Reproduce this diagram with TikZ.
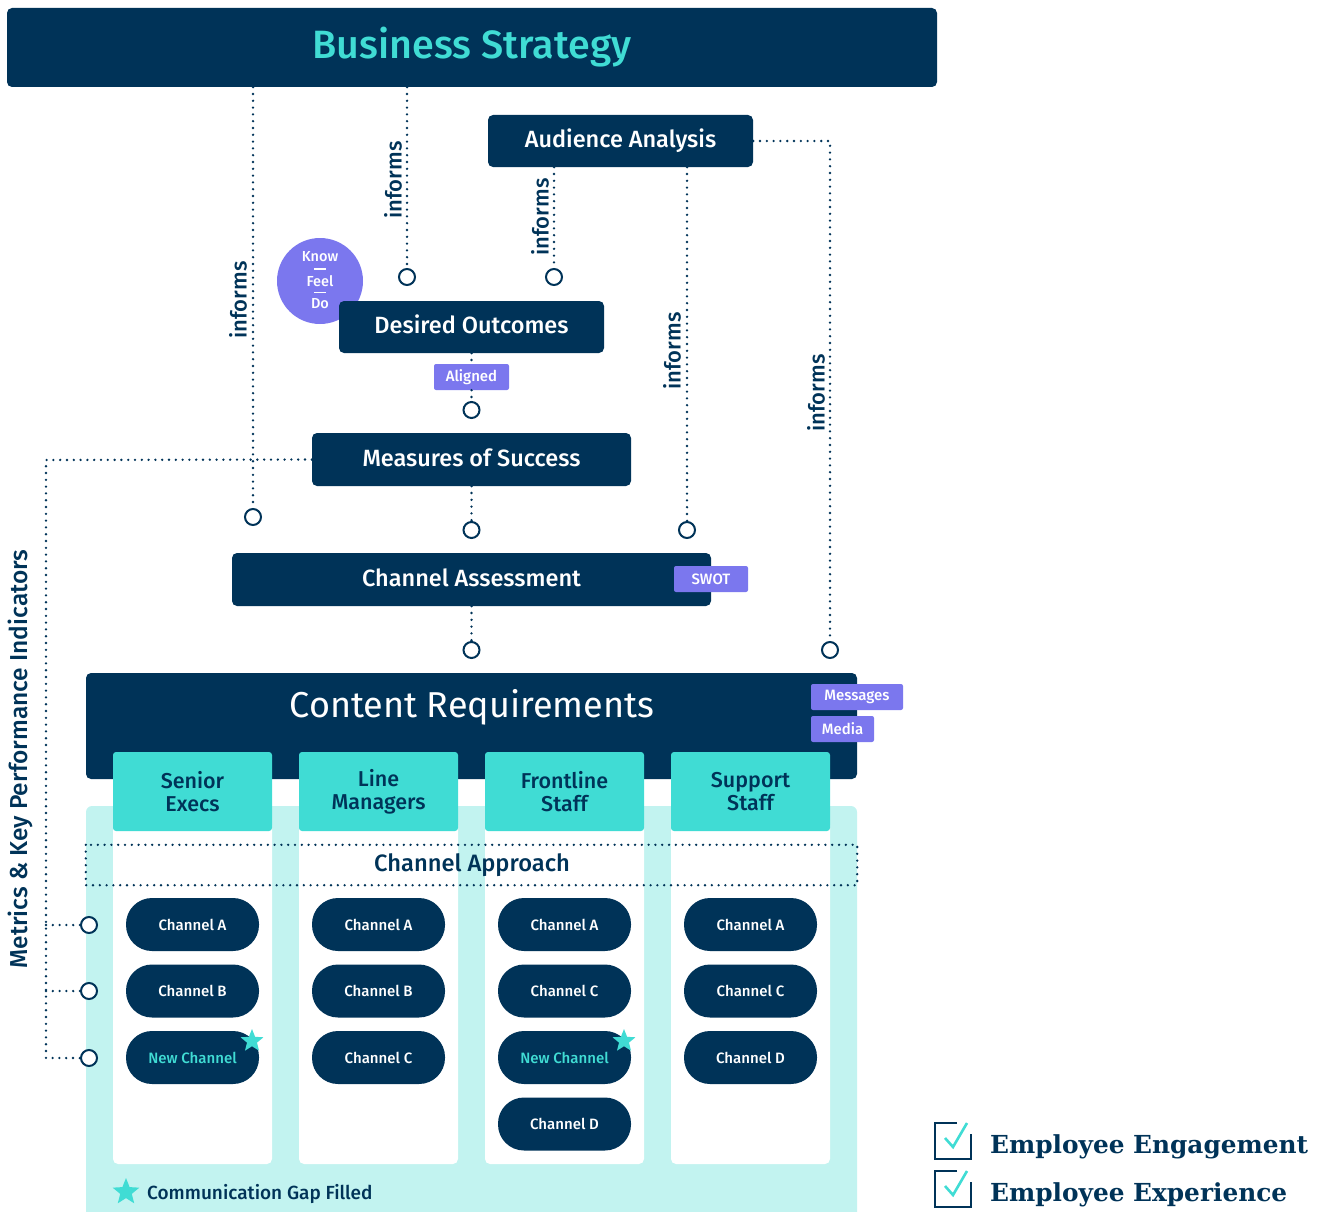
\documentclass[tikz,border=0pt]{standalone}
\usepackage{fontspec}
\setmainfont{Fira Sans}
\newfontfamily\semib{Fira Sans SemiBold}
\newfontfamily\medium{Fira Sans Medium}
\newfontfamily\slab{DejaVu Serif}
\usetikzlibrary{shapes.geometric}
\definecolor{navy}{HTML}{003358}
\definecolor{aqua}{HTML}{40DCD4}
\definecolor{paleaqua}{HTML}{C2F3F0}
\definecolor{violet}{HTML}{7B77EE}
\tikzset{
  box/.style={fill=navy, rounded corners=5pt, text=white, inner sep=0pt,
    text height=16.5pt, text depth=3pt, font=\fontsize{23.5}{28}\medium},
  tag/.style={fill=violet, text=white, rounded corners=2pt, inner sep=0pt,
    minimum height=26pt, font=\fontsize{15}{17}\medium},
  port/.style={circle, draw=navy, line width=2pt, fill=white, minimum size=16pt, inner sep=0pt},
  dots/.style={navy, line width=2.6pt, line cap=round, dash pattern=on 0pt off 6.8pt},
  inf/.style={rotate=90, text=navy, inner sep=0pt, font=\fontsize{22}{26}\medium},
  head/.style={fill=aqua, text=navy, inner sep=0pt, align=center,
    font=\fontsize{21.5}{23}\medium},
  panel/.style={fill=white, rounded corners=5pt},
  pill/.style={fill=navy, rounded corners=26pt, minimum width=133pt, minimum height=53pt,
    text=white, inner sep=0pt, font=\fontsize{15}{17}\medium},
  newpill/.style={pill, text=aqua},
  gapstar/.style={star, star points=5, star point ratio=2.3, fill=aqua, inner sep=0pt,
    minimum size=24pt},
  kfd/.style={text=white, inner sep=0pt, font=\fontsize{14.5}{16}\medium},
  goal/.style={text=navy, anchor=base west, inner sep=0pt, font=\fontsize{24.8}{28}\slab\bfseries},
  tick/.style={line width=2.6pt},
}
\begin{document}
\begin{tikzpicture}[x=1pt, y=-1pt]
\useasboundingbox (0,0) rectangle (1322,1212);

% --- top of the chain -------------------------------------------------
\node[box, minimum width=930pt, minimum height=79pt, text=aqua, text height=28pt, text depth=5.5pt,
  font=\fontsize{39.5}{44}\medium] (bs) at (472,47.5) {Business Strategy};
\node[box, minimum width=265pt, minimum height=52pt] (aa) at (620.5,141) {Audience Analysis};

% know / feel / do badge sits behind the outcomes box
\node[circle, fill=violet, minimum size=86pt, inner sep=0pt] (kfd) at (320,281) {};
\node[kfd] (kfdk) at (320,257) {Know};
\node[kfd] (kfdf) at (320,281) {Feel};
\node[kfd] (kfdd) at (320,304) {Do};
\draw[white, line width=1.2pt] (314,269) -- (326,269) (314,292.5) -- (326,292.5);

\node[box, minimum width=265pt, minimum height=52pt] (do) at (471.5,327) {Desired Outcomes};
\node[tag, minimum width=75pt] (aligned) at (471.5,377) {Aligned};
\node[box, minimum width=319pt, minimum height=53pt] (ms) at (471.5,459.5) {Measures of Success};
\node[box, minimum width=479pt, minimum height=53pt] (ca) at (471.5,579.5) {Channel Assessment};
\node[tag, minimum width=74pt] (swot) at (711,579) {SWOT};

% --- connection ports -------------------------------------------------
\node[port] (p1) at (253,517) {};
\node[port] (p2) at (407,277) {};
\node[port] (p3) at (554,277) {};
\node[port] (p4) at (687,530) {};
\node[port] (p5) at (830,650) {};
\node[port] (p6) at (471.5,410) {};
\node[port] (p7) at (471.5,530) {};
\node[port] (p8) at (471.5,650) {};

% --- content requirements block ---------------------------------------
\node[box, minimum width=771pt, minimum height=106pt] (cr) at (471.5,726) {};
\node[text=white, inner sep=0pt, font=\fontsize{36}{42}\selectfont] (crt) at (472,707) {Content Requirements};
\node[tag, minimum width=92pt] (msg) at (857,697) {Messages};
\node[tag, minimum width=63pt] (media) at (842.5,729) {Media};

\fill[paleaqua, rounded corners=6pt] (86,1230) -- (86,806) -- (857,806) -- (857,1230) -- cycle;

% audience columns
\foreach \cx/\n/\t in {192.5/1/{Senior\\Execs}, 378.5/2/{Line\\Managers},
                       564.5/3/{Frontline\\Staff}, 750.5/4/{Support\\Staff}} {
  \fill[panel] (\cx-79.5,820) rectangle (\cx+79.5,1164);
  \fill[aqua, rounded corners=3pt] (\cx-79.5,831) -- (\cx-79.5,752) -- (\cx+79.5,752) -- (\cx+79.5,831) -- cycle;
  \node[head] (h\n) at (\cx,791.5) {\t};
}

% channel approach band
\node[inner sep=0pt, minimum width=771pt, minimum height=40pt] (band) at (471.5,865) {};
\draw[dots] (band.north west) rectangle (band.south east);
\node[text=navy, inner sep=0pt, font=\fontsize{23.7}{28}\medium] (chap) at (472,865) {Channel Approach};

% channels per audience
\node[pill] (a1) at (192.5,924.5) {Channel A};
\node[pill] (a2) at (192.5,991) {Channel B};
\node[newpill] (a3) at (192.5,1057.5) {New Channel};
\node[pill] (b1) at (378.5,924.5) {Channel A};
\node[pill] (b2) at (378.5,991) {Channel B};
\node[pill] (b3) at (378.5,1057.5) {Channel C};
\node[pill] (c1) at (564.5,924.5) {Channel A};
\node[pill] (c2) at (564.5,991) {Channel C};
\node[newpill] (c3) at (564.5,1057.5) {New Channel};
\node[pill] (c4) at (564.5,1124) {Channel D};
\node[pill] (d1) at (750.5,924.5) {Channel A};
\node[pill] (d2) at (750.5,991) {Channel C};
\node[pill] (d3) at (750.5,1057.5) {Channel D};
\node[gapstar] (s1) at (252,1041) {};
\node[gapstar] (s2) at (624,1041) {};

% legend
\node[gapstar, minimum size=28pt] (s3) at (126,1192) {};
\node[text=navy, anchor=west, inner sep=0pt, font=\fontsize{19}{22}\medium] (leg) at (147,1193.5) {Communication Gap Filled};

% --- dotted connectors ------------------------------------------------
\draw[dots] (bs.south -| p1) -- (p1);
\draw[dots] (bs.south -| p2) -- (p2);
\draw[dots] (aa.south -| p3) -- (p3);
\draw[dots] (aa.south -| p4) -- (p4);
\draw[dots] (aa.east) -| (p5);
\draw[dots] (do.south) -- (aligned);
\draw[dots] (aligned) -- (p6);
\draw[dots] (ms.south) -- (p7);
\draw[dots] (ca.south) -- (p8);

\node[inf] (i1) at (238,300) {informs};
\node[inf] (i2) at (393,180) {informs};
\node[inf] (i3) at (540,217) {informs};
\node[inf] (i4) at (672,351) {informs};
\node[inf] (i5) at (816,393) {informs};

% metrics feedback into the channels
\node[port] (k1) at (89,925) {};
\node[port] (k2) at (89,991) {};
\node[port] (k3) at (89,1058) {};
\coordinate (kx) at (46,460);
\draw[dots] (ms.west) -- (kx) -- (kx |- k3) -- (k3);
\draw[dots] (kx |- k1) -- (k1);
\draw[dots] (kx |- k2) -- (k2);
\node[inf, font=\fontsize{24.5}{28}\medium] (kpi) at (20,759) {Metrics \& Key Performance Indicators};

% --- outcomes -----------------------------------------------------------
\draw[navy, tick] (957,1123) -- (935,1123) -- (935,1159) -- (971,1159) -- (971,1134);
\draw[aqua, tick] (945,1138) -- (953,1147) -- (967,1123);
\draw[navy, tick] (957,1171) -- (935,1171) -- (935,1207) -- (971,1207) -- (971,1182);
\draw[aqua, tick] (945,1186) -- (953,1195) -- (967,1171);
\node[goal] (ee1) at (990,1153) {Employee Engagement};
\node[goal] (ee2) at (990,1201) {Employee Experience};
\end{tikzpicture}
\end{document}
